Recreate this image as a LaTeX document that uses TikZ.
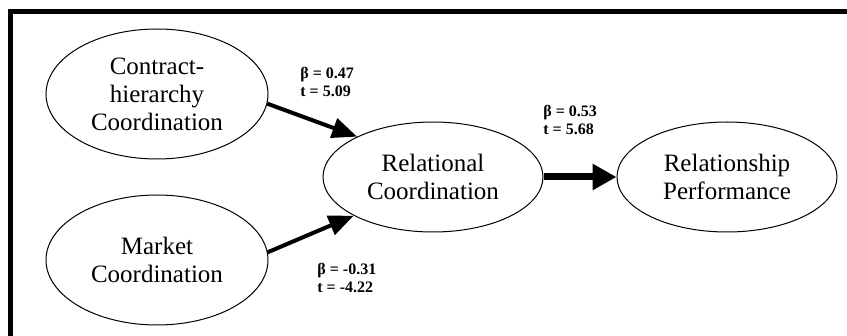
\documentclass[tikz,border=0pt]{standalone}
\usepackage{fontspec}
\setmainfont{Liberation Serif}
\usetikzlibrary{shapes.geometric,arrows.meta}

\begin{document}
\begin{tikzpicture}[x=0.5pt, y=-0.5pt,
        >={Triangle[length=12.5pt,width=10pt]},
        construct/.style={draw, ellipse, line width=0.5pt, inner sep=0pt, align=center,
            minimum width=111pt, minimum height=65pt,
            font=\fontsize{12.5}{14}\selectfont},
        effect/.style={->, line width=2pt},
        coef/.style={anchor=west, align=left, inner sep=0pt,
            font=\bfseries\fontsize{8}{9}\selectfont}]
        % --- 1. Canvas and frame ---
        \useasboundingbox (0,0) rectangle (847,336);
        \draw[line width=2.5pt] (10,336) -- (10,12) -- (847,12);

        % --- 2. Constructs ---
        \node[construct] (contract) at (157,94) {Contract-\\hierarchy\\Coordination};
        \node[construct] (market) at (157,260) {Market\\Coordination};
        \node[construct, minimum width=110pt, minimum height=55pt] (relational) at (433,177) {Relational\\Coordination};
        \node[construct, minimum width=110pt, minimum height=55pt] (performance) at (727,177) {Relationship\\Performance};

        % --- 3. Paths ---
        \draw[effect] (contract.-5) -- (relational.152);
        \draw[effect] (market.4) -- (relational.206);
        \draw[effect, line width=3.5pt, -{Triangle[length=12pt,width=12.5pt]}] (relational) -- (performance);

        % --- 4. Path coefficients ---
        \node[coef] (b1) at (300,82) {β = 0.47\\t = 5.09};
        \node[coef] (b2) at (317,278) {β = -0.31\\t = -4.22};
        \node[coef] (b3) at (543,120) {β = 0.53\\t = 5.68};
\end{tikzpicture}
\end{document}
